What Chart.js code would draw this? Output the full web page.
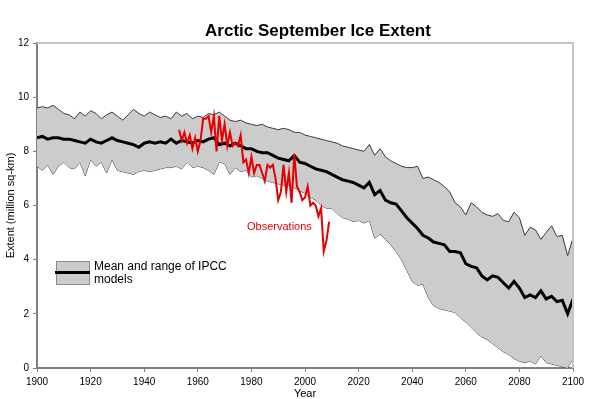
<!DOCTYPE html>
<html>
<head>
<meta charset="utf-8">
<script src="https://cdn.jsdelivr.net/npm/chart.js@4.4.0/dist/chart.umd.min.js"></script>
<style>
  html, body { margin: 0; padding: 0; background: #fff; }
  #wrap { width: 591px; height: 399px; position: relative; }
</style>
</head>
<body>
<div id="wrap"><canvas id="ice"></canvas></div>
<script>
// Tick labels
var yearTicks = [1900, 1920, 1940, 1960, 1980, 2000, 2020, 2040, 2060, 2080, 2100];
var extentTicks = [0, 2, 4, 6, 8, 10, 12];

// IPCC model years (every 2nd year, 1900-2100)
var modelYears = [];
for (var yr = 1900; yr <= 2100; yr += 2) { modelYears.push(yr); }

// Model mean, million sq-km
var modelMean = [
  8.5, 8.55, 8.45, 8.5, 8.5,
  8.45, 8.45, 8.4, 8.35, 8.3,
  8.45, 8.35, 8.3, 8.4, 8.5,
  8.4, 8.35, 8.3, 8.25, 8.15,
  8.3, 8.35, 8.3, 8.35, 8.3,
  8.45, 8.3, 8.4, 8.35, 8.3,
  8.4, 8.35, 8.45, 8.5, 8.25,
  8.3, 8.2, 8.3, 8.2, 8.1,
  8.1, 8.0, 7.95, 7.95, 7.85,
  7.75, 7.7, 7.65, 7.85, 7.6,
  7.55, 7.45, 7.35, 7.3, 7.25,
  7.15, 7.05, 6.95, 6.9, 6.85,
  6.75, 6.65, 6.85, 6.4, 6.55,
  6.2, 6.1, 6.05, 5.8, 5.55,
  5.35, 5.15, 4.9, 4.8, 4.65,
  4.6, 4.55, 4.3, 4.3, 4.25,
  3.85, 3.75, 3.7, 3.4, 3.25,
  3.4, 3.35, 3.15, 2.95, 3.2,
  2.95, 2.6, 2.7, 2.6, 2.85,
  2.55, 2.65, 2.45, 2.5, 2.0,
  2.55
];

// Model range, upper edge
var modelUpper = [
  9.6, 9.65, 9.6, 9.7, 9.55,
  9.4, 9.35, 9.2, 9.45, 9.3,
  9.5, 9.4, 9.2, 9.35, 9.45,
  9.3, 9.15, 9.35, 9.55, 9.4,
  9.3, 9.45, 9.35, 9.25, 9.3,
  9.2, 9.45, 9.3, 9.4, 9.2,
  9.3, 9.25, 9.4, 9.35, 9.45,
  9.3, 9.15, 9.1, 9.15, 9.05,
  9.0, 8.95, 9.0, 8.9, 8.85,
  8.8, 8.85, 8.8, 8.7, 8.7,
  8.6, 8.55, 8.5, 8.45, 8.4,
  8.35, 8.3, 8.2, 8.15, 8.1,
  8.05, 8.0, 8.25, 7.85, 8.1,
  7.8, 7.65, 7.55, 7.45, 7.4,
  7.4, 7.45, 7.0, 7.05, 6.95,
  6.85, 6.7, 6.5, 6.1, 5.95,
  5.65, 6.1, 5.95, 5.75, 5.65,
  5.6, 5.7, 5.45, 5.4, 5.75,
  5.55, 4.9, 5.2, 5.1, 4.75,
  5.0, 5.25, 4.85, 4.9, 4.15,
  4.8
];

// Model range, lower edge
var modelLower = [
  7.45, 7.3, 7.5, 7.15, 7.45,
  7.6, 7.4, 7.35, 7.6, 7.1,
  7.7, 7.45, 7.6, 7.2, 7.7,
  7.3, 7.25, 7.2, 7.15, 7.25,
  7.3, 7.25, 7.3, 7.35, 7.4,
  7.4, 7.45, 7.35, 7.6, 7.4,
  7.45, 7.4, 7.3, 7.15, 7.6,
  7.55, 7.15, 7.4, 7.25, 7.3,
  7.05, 7.1, 7.0, 6.9, 6.85,
  6.8, 6.75, 6.75, 6.65, 6.55,
  6.45, 6.3, 6.2, 6.0, 5.9,
  5.9, 5.7, 5.55, 5.5, 5.4,
  5.45, 5.35, 5.45, 4.8, 4.95,
  4.75, 4.55, 4.3, 4.0, 3.6,
  3.2, 3.05, 3.1, 2.6, 2.3,
  2.2, 2.15, 2.1, 2.05, 1.85,
  1.7, 1.5, 1.3, 1.15, 1.05,
  0.9, 0.75, 0.6, 0.5, 0.35,
  0.25, 0.2, 0.25, 0.15, 0.45,
  0.2, 0.15, 0.1, 0.05, 0.0,
  0.35
];

// Observations 1953-2009
var obsYears = [];
for (var oy = 1953; oy <= 2009; oy++) { obsYears.push(oy); }
var observed = [
  8.8, 8.4, 8.7, 8.3, 8.6, 8.1, 8.5,
  8.0, 8.4, 9.2, 9.2, 9.3, 8.7, 9.3, 8.0, 9.3, 8.4,
  9.0, 8.2, 8.7, 8.2, 8.3, 8.2, 8.6, 7.6, 7.7, 7.2,
  7.8, 7.2, 7.5, 7.5, 7.2, 6.9, 7.5, 7.4, 7.5, 7.0,
  6.2, 6.5, 7.5, 6.5, 7.2, 6.1, 7.9, 6.7, 6.5, 6.2,
  6.3, 6.7, 6.0, 6.1, 6.0, 5.6, 5.9, 4.3, 4.7, 5.4
];

function pairs(xs, ys) {
  return xs.map(function (x, i) { return { x: x, y: ys[i] }; });
}

var FONT = '"Liberation Sans", Arial, sans-serif';

// Title, frame, legend and labels
var decor = {
  id: 'decor',
  afterDraw: function (chart) {
    var ctx = chart.ctx;
    var a = chart.chartArea;
    ctx.save();

    // light frame top / right
    ctx.strokeStyle = '#c4c4c4';
    ctx.lineWidth = 2;
    ctx.beginPath();
    ctx.moveTo(a.left, a.top);
    ctx.lineTo(a.right, a.top);
    ctx.lineTo(a.right, a.bottom);
    ctx.stroke();

    // title
    ctx.fillStyle = '#000';
    ctx.font = 'bold 17px ' + FONT;
    ctx.textAlign = 'center';
    ctx.textBaseline = 'alphabetic';
    ctx.fillText('Arctic September Ice Extent', 318, 36);

    // x axis title
    ctx.font = '11px ' + FONT;
    ctx.fillText('Year', (a.left + a.right) / 2, 397);

    // legend
    ctx.fillStyle = '#cccccc';
    ctx.fillRect(56, 261, 33, 23);
    ctx.strokeStyle = '#8c8c8c';
    ctx.lineWidth = 1;
    ctx.strokeRect(56.5, 261.5, 33, 23);
    ctx.strokeStyle = '#000';
    ctx.lineWidth = 3;
    ctx.beginPath();
    ctx.moveTo(55, 272.5);
    ctx.lineTo(90, 272.5);
    ctx.stroke();
    ctx.fillStyle = '#000';
    ctx.font = '12px ' + FONT;
    ctx.textAlign = 'left';
    ctx.fillText('Mean and range of IPCC', 94, 270);
    ctx.fillText('models', 94, 283);

    // observations label
    ctx.fillStyle = '#e60000';
    ctx.font = '11px ' + FONT;
    ctx.fillText('Observations', 247, 230);
    ctx.restore();
  }
};

new Chart(document.getElementById('ice'), {
  type: 'line',
  data: {
    datasets: [
      {
        label: 'Observations',
        data: pairs(obsYears, observed),
        borderColor: '#e60000',
        borderWidth: 2,
        pointRadius: 0,
        fill: false,
        order: 0
      },
      {
        label: 'Mean',
        data: pairs(modelYears, modelMean),
        borderColor: '#000',
        borderWidth: 3,
        pointRadius: 0,
        fill: false,
        order: 1
      },
      {
        label: 'Upper',
        data: pairs(modelYears, modelUpper),
        borderColor: '#3a3a3a',
        borderWidth: 1,
        pointRadius: 0,
        backgroundColor: '#cccccc',
        fill: '+1',
        order: 2
      },
      {
        label: 'Lower',
        data: pairs(modelYears, modelLower),
        borderColor: '#3a3a3a',
        borderWidth: 1,
        pointRadius: 0,
        fill: false,
        order: 3
      }
    ]
  },
  options: {
    responsive: true,
    maintainAspectRatio: false,
    animation: false,
    layout: { padding: { top: 43, right: 18, left: 0, bottom: 0 } },
    plugins: {
      legend: { display: false },
      tooltip: { enabled: false }
    },
    scales: {
      x: {
        type: 'linear',
        min: 1900,
        max: 2100,
        afterFit: function (s) { s.height = 31; },
        afterBuildTicks: function (s) {
          s.ticks = yearTicks.map(function (v) { return { value: v }; });
        },
        ticks: {
          color: '#000',
          font: { family: FONT, size: 10 },
          padding: 4,
          maxRotation: 0,
          autoSkip: false,
          callback: function (v) { return String(v); }
        },
        grid: { drawOnChartArea: false, color: '#808080', tickLength: 4 },
        border: { color: '#808080', width: 2 }
      },
      y: {
        min: 0,
        max: 12,
        afterFit: function (s) { s.width = 37; },
        afterBuildTicks: function (s) {
          s.ticks = extentTicks.map(function (v) { return { value: v }; });
        },
        ticks: {
          color: '#000',
          font: { family: FONT, size: 10 },
          padding: 4,
          autoSkip: false
        },
        grid: { drawOnChartArea: false, color: '#808080', tickLength: 4 },
        border: { color: '#808080', width: 2 },
        title: {
          display: true,
          text: 'Extent (million sq-km)',
          color: '#000',
          font: { family: FONT, size: 11 },
          padding: { top: 4, bottom: 0 }
        }
      }
    }
  },
  plugins: [decor]
});
</script>
</body>
</html>
